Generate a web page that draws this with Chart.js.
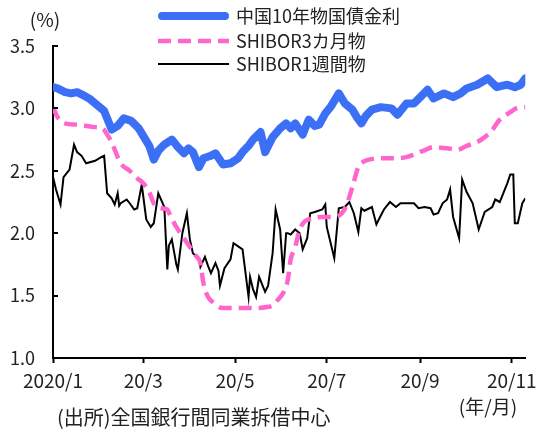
<!DOCTYPE html>
<html lang="ja">
<head>
<meta charset="utf-8">
<title>中国の金利推移</title>
<script src="https://cdn.jsdelivr.net/npm/chart.js@4/dist/chart.umd.min.js"></script>
<style>
  html, body { margin: 0; padding: 0; background: #fff; }
  #wrap { position: relative; width: 543px; height: 430px; }
</style>
</head>
<body>
<div id="wrap"><canvas id="rateChart" width="543" height="430"></canvas></div>
<script>
// days counted from 2020/1/1
const tickDays = [0, 60, 121, 182, 244, 305];
const tickLabels = ['2020/1', '20/3', '20/5', '20/7', '20/9', '20/11'];
const yTicks = [1.0, 1.5, 2.0, 2.5, 3.0, 3.5];

const seriesNames = ['中国10年物国債金利', 'SHIBOR3カ月物', 'SHIBOR1週間物'];

// 10-year government bond yield
const bondDays = [0, 3, 8, 12, 16, 21, 24, 28, 31, 34, 39, 43, 47, 52, 57, 60, 64, 67, 70, 74,
  79, 83, 87, 90, 93, 97, 100, 105, 108, 113, 118, 123, 126, 130, 133, 138, 141, 146, 151, 155,
  158, 161, 166, 170, 174, 177, 181, 185, 190, 194, 199, 202, 205, 208, 212, 218, 225, 229, 235, 240,
  245, 249, 253, 260, 266, 271, 275, 282, 289, 295, 302, 307, 311, 314];
const bondRates = [3.17, 3.16, 3.13, 3.12, 3.13, 3.10, 3.08, 3.04, 3.01, 2.98, 2.83, 2.86, 2.92, 2.90, 2.84, 2.78, 2.70, 2.59, 2.66, 2.71,
  2.75, 2.69, 2.64, 2.68, 2.65, 2.53, 2.60, 2.62, 2.64, 2.55, 2.56, 2.60, 2.65, 2.70, 2.75, 2.81, 2.65, 2.77, 2.84, 2.88,
  2.84, 2.88, 2.79, 2.91, 2.86, 2.87, 2.96, 3.02, 3.12, 3.04, 2.99, 2.93, 2.88, 2.94, 2.99, 3.01, 3.00, 2.95, 3.04, 3.04,
  3.10, 3.15, 3.08, 3.12, 3.09, 3.12, 3.16, 3.19, 3.24, 3.17, 3.19, 3.17, 3.19, 3.24];

// SHIBOR 3 months
const shibor3mDays = [0, 3, 8, 16, 28, 33, 36, 39, 42, 45, 51, 56, 60, 64, 67, 72, 76, 78, 82, 87,
  91, 95, 98, 100, 103, 107, 110, 113, 123, 136, 143, 146, 149, 153, 156, 158, 161, 164, 167, 170,
  179, 187, 192, 195, 199, 203, 206, 210, 218, 228, 235, 240, 246, 253, 262, 269, 275, 282, 287, 291,
  297, 304, 308, 314];
const shibor3mRates = [3.01, 2.93, 2.88, 2.87, 2.85, 2.84, 2.79, 2.73, 2.64, 2.56, 2.50, 2.44, 2.40, 2.33, 2.24, 2.20, 2.19, 2.14, 2.05, 1.96,
  1.89, 1.82, 1.76, 1.60, 1.49, 1.44, 1.41, 1.40, 1.40, 1.40, 1.41, 1.42, 1.46, 1.52, 1.62, 1.79, 1.89, 2.03, 2.09, 2.11,
  2.13, 2.13, 2.16, 2.22, 2.37, 2.53, 2.57, 2.59, 2.60, 2.60, 2.61, 2.63, 2.66, 2.69, 2.68, 2.67, 2.70, 2.73, 2.77, 2.81,
  2.91, 2.97, 3.00, 3.01];

// SHIBOR 1 week
const shibor1wDays = [0, 2, 5, 7, 11, 14, 16, 19, 22, 28, 32, 34, 36, 39, 41, 43, 44, 45, 49, 51,
  54, 56, 59, 62, 65, 67, 70, 74, 76, 77, 79, 82, 83, 86, 89, 91, 93, 97, 98, 101,
  103, 105, 108, 110, 111, 114, 118, 120, 126, 130, 131, 133, 135, 137, 141, 143, 146, 148, 151, 153,
  155, 156, 158, 161, 164, 166, 169, 171, 174, 179, 181, 182, 187, 190, 194, 197, 200, 203, 205, 207,
  212, 215, 217, 220, 224, 228, 231, 235, 240, 243, 247, 251, 253, 256, 259, 262, 264, 266, 270, 272,
  275, 279, 283, 287, 292, 294, 297, 302, 304, 306, 307, 309, 312, 314];
const shibor1wRates = [2.45, 2.35, 2.23, 2.45, 2.51, 2.71, 2.65, 2.62, 2.56, 2.58, 2.61, 2.62, 2.32, 2.28, 2.23, 2.32, 2.22, 2.24, 2.27, 2.24,
  2.19, 2.20, 2.39, 2.11, 2.05, 2.08, 2.32, 2.21, 1.71, 1.90, 1.95, 1.75, 1.71, 2.00, 2.16, 1.95, 1.84, 1.80, 1.73, 1.81,
  1.74, 1.68, 1.76, 1.70, 1.58, 1.72, 1.79, 1.92, 1.87, 1.49, 1.65, 1.55, 1.49, 1.65, 1.53, 1.58, 1.84, 2.19, 2.03, 1.68,
  2.00, 2.00, 1.99, 2.03, 2.00, 1.87, 1.96, 2.16, 2.17, 2.19, 2.23, 2.05, 1.80, 2.20, 2.21, 2.25, 2.16, 2.01, 2.20, 2.18,
  2.21, 2.07, 2.12, 2.19, 2.25, 2.21, 2.24, 2.24, 2.24, 2.20, 2.21, 2.20, 2.15, 2.16, 2.24, 2.27, 2.35, 2.13, 1.96, 2.43,
  2.33, 2.24, 2.03, 2.17, 2.21, 2.27, 2.25, 2.40, 2.47, 2.47, 2.08, 2.08, 2.24, 2.28];

const BLUE = '#3b6ff5';
const PINK = '#ff66cc';
const FONT = '"Noto Sans CJK JP", "Noto Sans", sans-serif';

const toPoints = (days, vals) => days.map((d, i) => ({ x: d, y: vals[i] }));

// inward y ticks, legend and notes drawn on top of the chart
const decorPlugin = {
  id: 'decor',
  afterDraw(chart) {
    const ctx = chart.ctx;
    const yScale = chart.scales.y;
    const left = chart.chartArea.left;
    ctx.save();
    ctx.strokeStyle = '#000';
    ctx.lineWidth = 2;
    yTicks.forEach(v => {
      const y = Math.round(yScale.getPixelForValue(v));
      ctx.beginPath();
      ctx.moveTo(left, y);
      ctx.lineTo(left + 5, y);
      ctx.stroke();
    });

    // legend
    const rows = [
      { y: 16, color: BLUE, width: 8, dash: [] },
      { y: 41, color: PINK, width: 4.5, dash: [13, 7] },
      { y: 64, color: '#000', width: 2, dash: [] }
    ];
    rows.forEach((r, i) => {
      ctx.beginPath();
      ctx.setLineDash(r.dash);
      ctx.lineCap = i === 0 ? 'round' : 'butt';
      ctx.strokeStyle = r.color;
      ctx.lineWidth = r.width;
      ctx.moveTo(i === 0 ? 162 : 158, r.y);
      ctx.lineTo(i === 0 ? 225 : 229, r.y);
      ctx.stroke();
    });
    ctx.setLineDash([]);
    ctx.fillStyle = '#222';
    ctx.font = '18px ' + FONT;
    ctx.textBaseline = 'middle';
    ctx.textAlign = 'left';
    rows.forEach((r, i) => ctx.fillText(seriesNames[i], 236, r.y));

    ctx.font = '19px ' + FONT;
    ctx.textAlign = 'center';
    ctx.fillText('(%)', 45, 20);
    ctx.fillText('(年/月)', 488, 407);
    ctx.font = '20px ' + FONT;
    ctx.textAlign = 'left';
    ctx.fillText('(出所)全国銀行間同業拆借中心', 57, 417);
    ctx.restore();
  }
};

const ctx = document.getElementById('rateChart').getContext('2d');
new Chart(ctx, {
  type: 'line',
  data: {
    datasets: [
      {
        label: seriesNames[0],
        data: toPoints(bondDays, bondRates),
        borderColor: BLUE,
        borderWidth: 8,
        borderJoinStyle: 'round',
        borderCapStyle: 'round',
        pointRadius: 0,
        order: 1
      },
      {
        label: seriesNames[1],
        data: toPoints(shibor3mDays, shibor3mRates),
        borderColor: PINK,
        borderWidth: 4.5,
        borderDash: [13, 7],
        cubicInterpolationMode: 'monotone',
        pointRadius: 0,
        order: 2
      },
      {
        label: seriesNames[2],
        data: toPoints(shibor1wDays, shibor1wRates),
        borderColor: '#000',
        borderWidth: 2,
        pointRadius: 0,
        order: 3
      }
    ]
  },
  options: {
    responsive: false,
    animation: false,
    layout: { padding: { top: 46, right: 14, bottom: 0, left: 0 } },
    plugins: {
      legend: { display: false },
      tooltip: { enabled: false }
    },
    scales: {
      x: {
        type: 'linear',
        min: 0,
        max: 314,
        afterBuildTicks: axis => { axis.ticks = tickDays.map(v => ({ value: v })); },
        afterFit: axis => { axis.height = 72; },
        ticks: {
          autoSkip: false,
          maxRotation: 0,
          padding: 6,
          color: '#222',
          font: { family: FONT, size: 19 },
          callback: v => tickLabels[tickDays.indexOf(v)]
        },
        grid: { drawOnChartArea: false, drawTicks: true, tickLength: 5, tickWidth: 2, tickColor: '#000' },
        border: { color: '#000', width: 2 }
      },
      y: {
        min: 1.0,
        max: 3.5,
        afterBuildTicks: axis => { axis.ticks = yTicks.map(v => ({ value: v })); },
        afterFit: axis => { axis.width = 53; },
        ticks: {
          padding: 18,
          color: '#222',
          font: { family: FONT, size: 18 },
          callback: v => v.toFixed(1)
        },
        grid: { drawOnChartArea: false, drawTicks: false },
        border: { color: '#000', width: 2 }
      }
    }
  },
  plugins: [decorPlugin]
});
</script>
</body>
</html>
